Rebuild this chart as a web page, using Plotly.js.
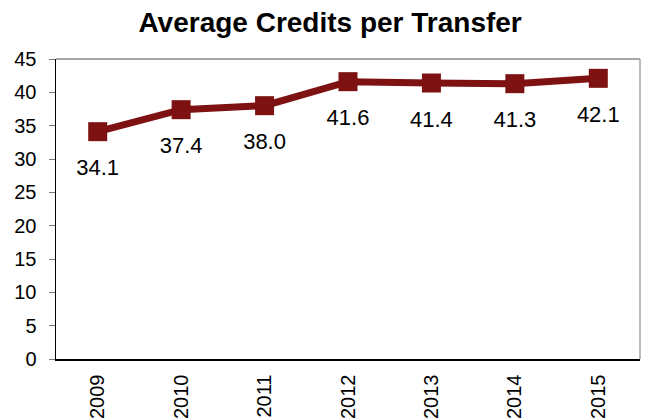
<!DOCTYPE html>
<html><head><meta charset="utf-8">
<script src="https://cdn.plot.ly/plotly-3.0.1.min.js"></script>
<style>body{margin:0;background:#fff}#c{width:646px;height:420px}</style>
</head><body><div id="c"></div>
<script>
const years = ['2009','2010','2011','2012','2013','2014','2015'];
const credits = [34.1, 37.4, 38.0, 41.6, 41.4, 41.3, 42.1];
const labels = ['34.1','37.4','38.0','41.6','41.4','41.3','42.1'];
const yTicks = [0,5,10,15,20,25,30,35,40,45];

const color = '#7E1212';
const fam = 'Liberation Sans, Arial, sans-serif';

const lineTrace = {
  x: years, y: credits, type: 'scatter', mode: 'lines+markers',
  line: {color: color, width: 7},
  marker: {symbol: 'square', size: 19, color: color},
  hoverinfo: 'skip', cliponaxis: false
};

const labelTrace = {
  x: years, y: credits, type: 'scatter', mode: 'markers+text',
  text: labels, textposition: 'bottom center',
  textfont: {family: fam, size: 22, color: '#000'},
  marker: {size: 42, opacity: 0, color: color},
  hoverinfo: 'skip', cliponaxis: false
};

const layout = {
  width: 646, height: 420,
  margin: {l: 56, r: 6, t: 59, b: 61},
  paper_bgcolor: '#fff', plot_bgcolor: '#fff',
  font: {family: fam, size: 20, color: '#000'},
  title: {text: '<b>Average Credits per Transfer</b>', x: 0.511, xanchor: 'center', y: 0.948, yanchor: 'middle',
          font: {family: fam, size: 28, color: '#000'}},
  showlegend: false,
  xaxis: {type: 'category', range: [-0.5, 6.5], showgrid: false, zeroline: false,
          showline: true, linecolor: '#000', linewidth: 1.5, ticks: '', tickangle: -90,
          ticklabelstandoff: 6,
          tickfont: {family: fam, size: 20, color: '#000'}, fixedrange: true},
  yaxis: {range: [0, 45], tickvals: yTicks, showgrid: false, zeroline: false,
          showline: true, linecolor: '#000', linewidth: 1.5, ticks: 'outside', ticklen: 6,
          tickcolor: '#777', ticklabelstandoff: 8,
          tickfont: {family: fam, size: 20, color: '#000'}, fixedrange: true},
  shapes: [
    {type: 'line', xref: 'paper', yref: 'paper', x0: 0, x1: 1, y0: 1, y1: 1, line: {color: '#A6A6A6', width: 2}, layer: 'below'},
    {type: 'line', xref: 'paper', yref: 'paper', x0: 1, x1: 1, y0: 0, y1: 1, line: {color: '#A6A6A6', width: 1.5}, layer: 'below'}
  ]
};

Plotly.newPlot('c', [lineTrace, labelTrace], layout, {displayModeBar: false, staticPlot: true});
</script></body></html>
